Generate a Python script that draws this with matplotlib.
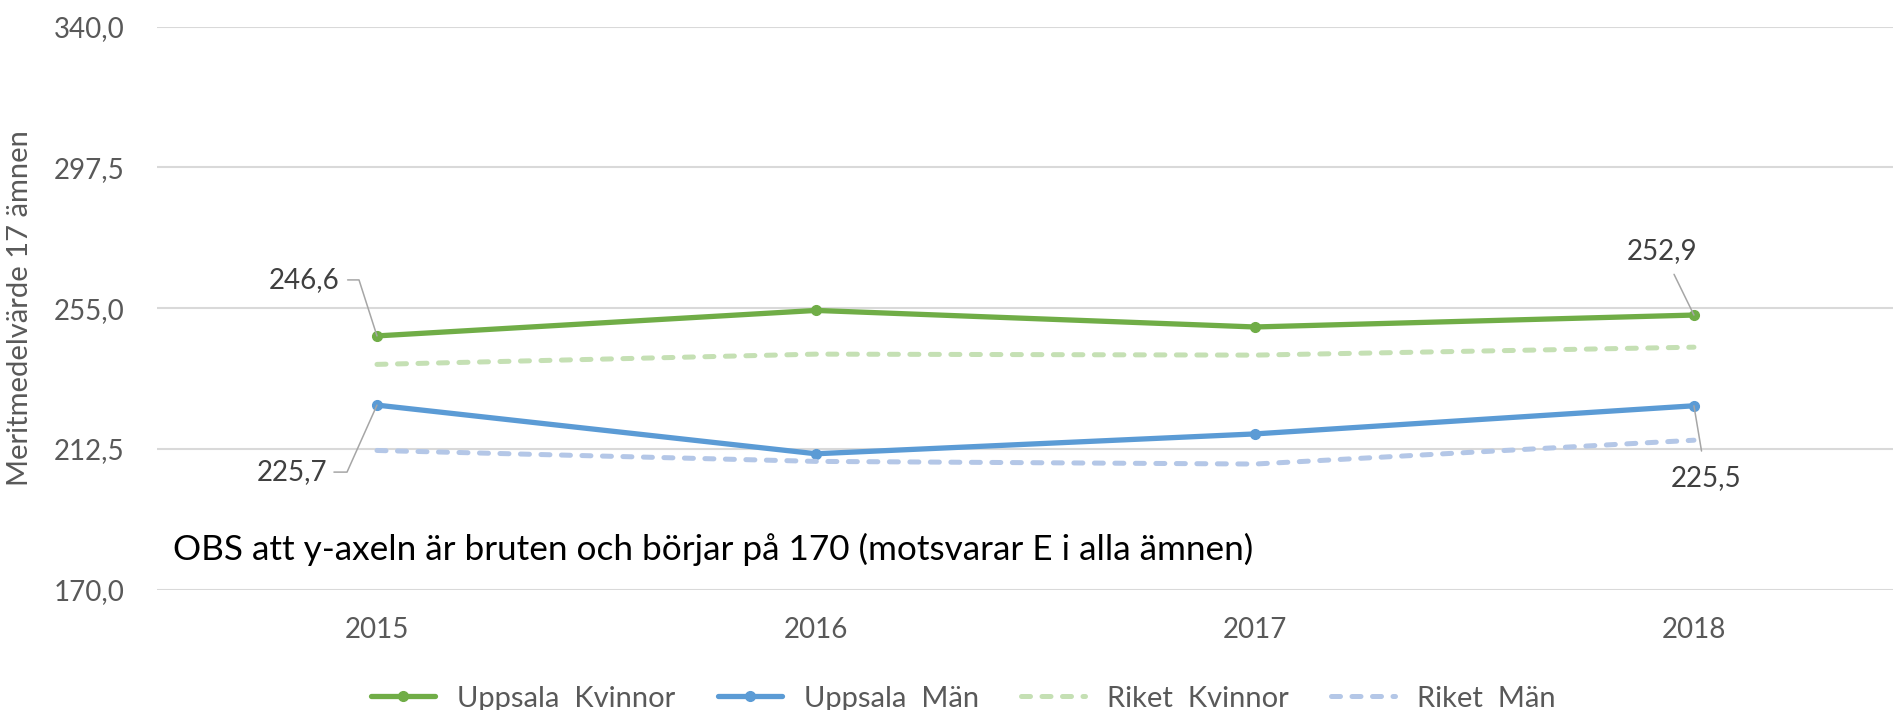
import numpy as np
import matplotlib.pyplot as plt

plt.rcParams['font.family'] = ['Lato', 'DejaVu Sans']

# Meritvärde (17 ämnen) per år
years = ["2015", "2016", "2017", "2018"]
uppsala_kvinnor = [246.6, 254.3, 249.3, 252.9]
uppsala_man = [225.7, 211.0, 217.0, 225.5]
riket_kvinnor = [238.0, 241.1, 240.8, 243.2]
riket_man = [212.0, 208.7, 207.9, 215.1]
y_ticks = [170.0, 212.5, 255.0, 297.5, 340.0]

GREEN = "#70ad47"
BLUE = "#5b9bd5"
LGREEN = "#c5e0b4"
LBLUE = "#b4c7e7"
GREY_TXT = "#595959"

fig = plt.figure(figsize=(18.93, 7.10), dpi=100)
ax = fig.add_axes([0.0832, 0.1697, 0.9276, 0.7927])

x = np.arange(len(years))
ax.plot(x, uppsala_kvinnor, color=GREEN, lw=3.8, marker="o", ms=7,
        label="Uppsala  Kvinnor", zorder=3, solid_capstyle="round")
ax.plot(x, uppsala_man, color=BLUE, lw=3.8, marker="o", ms=7,
        label="Uppsala  Män", zorder=3, solid_capstyle="round")
ax.plot(x, riket_kvinnor, color=LGREEN, lw=3.6, ls=(0, (1.8, 2.3)),
        dash_capstyle="round", label="Riket  Kvinnor", zorder=4)
ax.plot(x, riket_man, color=LBLUE, lw=3.6, ls=(0, (1.8, 2.3)),
        dash_capstyle="round", label="Riket  Män", zorder=4)

ax.set_xlim(-0.5, len(years) - 0.5)
ax.set_ylim(y_ticks[0], y_ticks[-1])
ax.set_yticks(y_ticks)
ax.set_yticklabels([f"{v:.1f}".replace(".", ",") for v in y_ticks])
ax.set_xticks(x)
ax.set_xticklabels(years)
ax.tick_params(axis="both", length=0, labelsize=20, labelcolor=GREY_TXT)
ax.tick_params(axis="y", pad=24)
ax.tick_params(axis="x", pad=20)
ax.grid(axis="y", color="#d9d9d9", lw=1.5)
ax.set_axisbelow(True)
for s in ax.spines.values():
    s.set_visible(False)

ax.set_ylabel("Meritmedelvärde 17 ämnen", fontsize=21, color=GREY_TXT)
ax.yaxis.set_label_coords(-0.0709, 0.5)

# dataetiketter med hänvisningslinjer
lead = dict(arrowstyle="-", color="#a6a6a6", lw=1.1, shrinkB=0)
lbl = dict(fontsize=20, color="#404040", textcoords="offset pixels")

ax.annotate(f"{uppsala_kvinnor[0]:.1f}".replace(".", ","),
            xy=(0, uppsala_kvinnor[0]), xytext=(-37, 56), ha="right", va="center",
            arrowprops=dict(lead, shrinkA=3.5, relpos=(1, 0.5),
                            connectionstyle="angle,angleA=0,angleB=107.8,rad=0"),
            **lbl)
ax.annotate(f"{uppsala_man[0]:.1f}".replace(".", ","),
            xy=(0, uppsala_man[0]), xytext=(-50, -67), ha="right", va="center",
            arrowprops=dict(lead, shrinkA=3, relpos=(1, 0.5),
                            connectionstyle="angle,angleA=0,angleB=65.9,rad=0"),
            **lbl)
ax.annotate(f"{uppsala_kvinnor[3]:.1f}".replace(".", ","),
            xy=(3, uppsala_kvinnor[3]), xytext=(-32, 64), ha="center", va="center",
            arrowprops=dict(lead, shrinkA=6, relpos=(0.6, 0)),
            **lbl)
ax.annotate(f"{uppsala_man[3]:.1f}".replace(".", ","),
            xy=(3, uppsala_man[3]), xytext=(12, -72), ha="center", va="center",
            arrowprops=dict(lead, shrinkA=8, relpos=(0.47, 1)),
            **lbl)

fig.text(0.0914, 0.2268,
         "OBS att y-axeln är bruten och börjar på 170 (motsvarar E i alla ämnen)",
         fontsize=25.3, color="black", ha="left", va="center")

ax.legend(loc="center", bbox_to_anchor=(0.509, 0.016), bbox_transform=fig.transFigure,
          ncol=4, frameon=False, fontsize=21, handlelength=2.2, handletextpad=0.75,
          columnspacing=1.45, labelcolor=GREY_TXT)

fig.savefig("out.png", dpi=100)
